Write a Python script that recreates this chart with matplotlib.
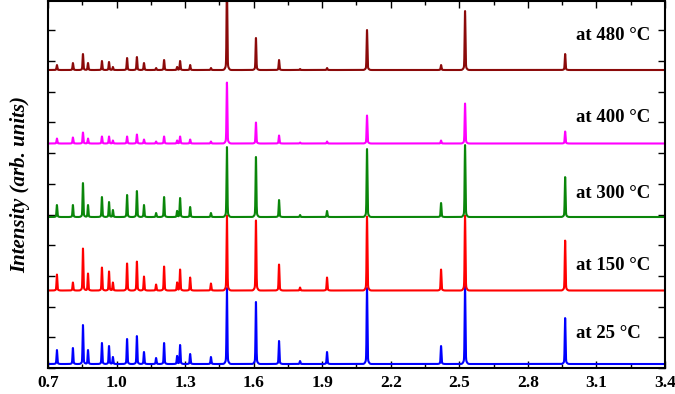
import numpy as np
import matplotlib.pyplot as plt

# -------------------------
# Data
# -------------------------
# peak positions (x axis units), shared by all five spectra
peak_pos = [0.739, 0.809, 0.853, 0.875, 0.936, 0.967, 0.984, 1.046, 1.089,
            1.120, 1.173, 1.208, 1.265, 1.278, 1.322, 1.413, 1.483, 1.610,
            1.711, 1.803, 1.921, 2.096, 2.420, 2.525, 2.963]

# peak heights (arb. units) for each temperature
h_25 = [14, 16, 39, 14, 21, 18, 7, 25, 28, 12, 6, 21, 8, 19, 10, 7, 76, 62,
        23, 3, 12, 76, 18, 78, 46]
h_150 = [16, 8, 42, 17, 23, 19, 8, 27, 29, 14, 6, 24, 8, 21, 13, 7, 75, 70,
         26, 3, 13, 74, 21, 75, 50]
h_300 = [12, 12, 34, 12, 20, 15, 7, 22, 26, 12, 4, 20, 6, 19, 10, 4, 70, 60,
         17, 2, 6, 68, 14, 72, 40]
h_400 = [5, 6, 11, 5, 7, 7, 3, 7, 9, 4, 2, 7, 3, 7, 4, 2, 61, 21, 8, 1, 2,
         28, 3, 40, 12]
h_480 = [5, 7, 16, 7, 9, 8, 3, 12, 13, 7, 2, 10, 3, 9, 5, 2, 85, 32, 10, 1,
         2, 40, 5, 59, 16]

labels = ["at 25 °C", "at 150 °C", "at 300 °C", "at 400 °C", "at 480 °C"]
heights = [h_25, h_150, h_300, h_400, h_480]
colors = ["#0000ff", "#ff0000", "#0a860a", "#ff00ff", "#8b0a0a"]

# -------------------------
# Plot
# -------------------------
plt.rcParams['font.family'] = ['Liberation Serif', 'DejaVu Serif']

fig = plt.figure(figsize=(6.75, 3.94), dpi=100)
ax = fig.add_axes([48 / 675, 26 / 394, 617 / 675, 367 / 394])

x = np.linspace(0.7, 3.4, 8000)
step = 73.5
base0 = 4

for i, (h, c) in enumerate(zip(heights, colors)):
    y = np.zeros_like(x)
    for p, a in zip(peak_pos, h):
        # sharp line plus a small foot
        y += 0.94 * a * np.exp(-0.5 * ((x - p) / 0.0017) ** 2)
        y += 0.06 * a * np.exp(-0.5 * ((x - p) / 0.006) ** 2)
    ax.plot(x, y + base0 + i * step, color=c, lw=1.5)

label_y = [35, 103, 175, 250, 332]
for lab, ly in zip(labels, label_y):
    ax.text(3.012, ly, lab, fontsize=13.5, fontweight='bold', va='center',
            ha='left')

ax.set_xlim(0.7, 3.4)
ax.set_ylim(0, 367)
ax.set_xticks(np.arange(0.7, 3.41, 0.3))
ax.set_xticks(np.arange(0.85, 3.4, 0.3), minor=True)
ax.set_xticklabels([f"{v:.1f}" for v in np.arange(0.7, 3.41, 0.3)],
                   fontsize=12.5, fontweight='bold')
ax.set_yticks(np.arange(0, 367, 30.7))
ax.set_yticklabels([])
ax.tick_params(direction='in', top=True, right=True, length=5, width=1)
ax.tick_params(which='minor', direction='in', top=True, length=3, width=1)
ax.tick_params(axis='x', pad=5)
for s in ax.spines.values():
    s.set_linewidth(1.5)

ax.set_ylabel("Intensity (arb. units)", fontsize=15, fontweight='bold',
              fontstyle='italic', labelpad=9)

fig.savefig("out.png", dpi=100)
